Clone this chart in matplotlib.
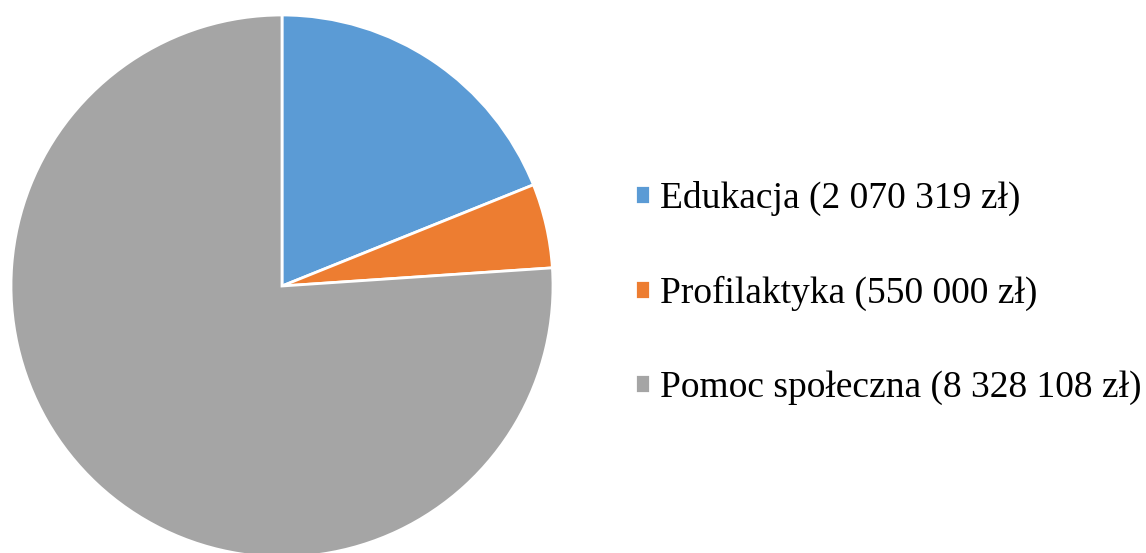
import matplotlib
matplotlib.use("Agg")
import matplotlib.pyplot as plt

categories = ["Edukacja", "Profilaktyka", "Pomoc społeczna"]
values = [2070319, 550000, 8328108]
labels = ["Edukacja (2 070 319 zł)", "Profilaktyka (550 000 zł)", "Pomoc społeczna (8 328 108 zł)"]
colors = ["#5B9BD5", "#ED7D31", "#A5A5A5"]

plt.rcParams['font.family'] = ['Liberation Serif', 'DejaVu Serif']

W, H = 1146, 553
fig = plt.figure(figsize=(W / 100, H / 100), dpi=100)
cx, cy, r = 282, H - 286, 271
ax = fig.add_axes([(cx - r) / W, (cy - r) / H, 2 * r / W, 2 * r / H])
wedges, _ = ax.pie(values, colors=colors, startangle=90, counterclock=False,
                   radius=1, wedgeprops=dict(edgecolor="white", linewidth=2))
ax.set_xlim(-1, 1)
ax.set_ylim(-1, 1)
ax.set_aspect("equal")
ax.axis("off")

fig.legend(wedges, labels, loc="center left", bbox_to_anchor=(635 / W, 0.47),
           frameon=False, fontsize=27, borderpad=0, borderaxespad=0,
           handlelength=0.4, handleheight=0.4, handletextpad=0.28,
           labelspacing=1.58)

fig.savefig("out.png", dpi=100)
